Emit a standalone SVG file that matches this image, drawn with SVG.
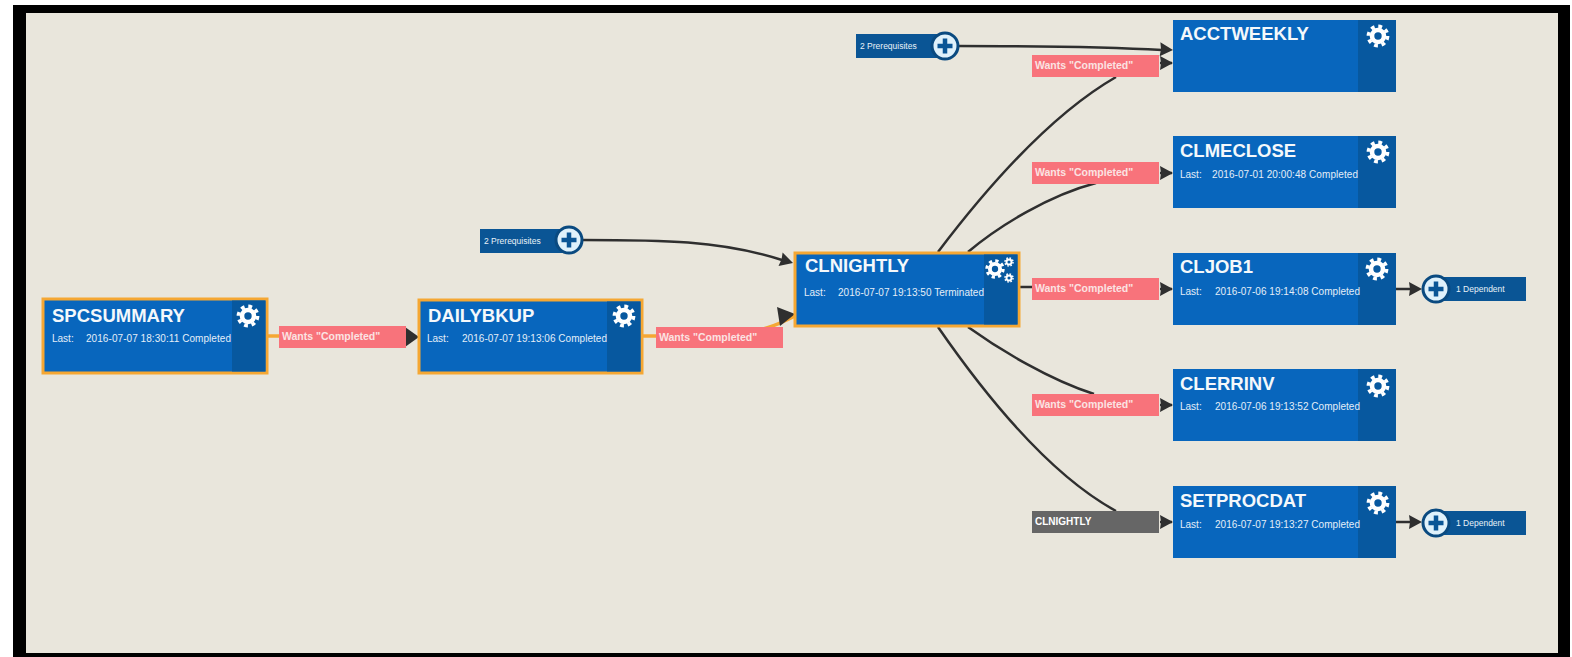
<svg xmlns="http://www.w3.org/2000/svg" width="1572" height="657" viewBox="0 0 1572 657">
<style>
text{font-family:"Liberation Sans",Arial,sans-serif;fill:#fff}
.box{fill:#0866bd}
.act{stroke:#f5a733;stroke-width:3}
.side{fill:#07589f}
.t{font-size:18.500px;font-weight:bold;fill:#f4f8fb}
.l{font-size:10px;fill:#e4eef8}
.w{font-size:10.500px;font-weight:bold;fill:#fbe3e3}
.wb{fill:#f8737b}
.c{fill:none;stroke:#2f2f2f;stroke-width:2.500}
.o{fill:none;stroke:#f5a733;stroke-width:3.500}
.tag{fill:#0a5595}
.s{font-size:8.500px;fill:#e8f1f8}
.pc{fill:#dff1fb;stroke:#0a4a80;stroke-width:3}
.ar{fill:#2f2f2f}
</style>
<defs>
<g id="gear" fill="none" stroke="#fff">
<circle r="9.600" stroke-width="3.600" stroke-dasharray="3.800 3.740"/>
<circle r="6" stroke-width="4.600"/>
</g>
<g id="plus">
<circle r="13" class="pc"/>
<path d="M0-7.500V7.500M-7.500 0H7.500" stroke="#0a5595" stroke-width="4.500" fill="none"/>
</g>
<path id="ah" d="M-13-7L0 0L-13 7L-12 0Z" class="ar"/>
</defs>
<rect width="1572" height="657" fill="#fff"/>
<rect x="13" y="5" width="1557" height="652" fill="#000"/>
<rect x="26" y="13" width="1532" height="640" fill="#e9e6dc"/>

<g id="connectors">
<path class="o" d="M267 336H282"/>
<path class="o" d="M643 336H660"/>
<path class="o" d="M740 332C760 332 775 326 795 316"/>
<path class="c" d="M1020 287H1034"/>
<path class="c" d="M582 240C660 240 720 240 782 260"/>
<path class="c" d="M957 46C1040 46 1110 47 1162 50"/>
<path class="c" d="M938 252C985 190 1050 115 1116 77"/>
<path class="c" d="M968 252C1000 225 1050 195 1096 183"/>
<path class="c" d="M968 327C1000 350 1050 380 1094 394"/>
<path class="c" d="M938 327C985 395 1050 475 1116 511"/>
<path class="c" d="M1160 63H1172M1160 173H1172M1160 289H1172M1160 405H1172M1160 522H1172"/>
<path class="c" d="M1395 289H1410M1395 522H1410"/>
<use href="#ah" transform="translate(793 263) rotate(17)"/>
<path class="ar" d="M777 307L795 314L780 326Z"/>
<path class="ar" d="M405 327L419 337L405 347Z"/>
<use href="#ah" transform="translate(1173 50) rotate(3)"/>
<use href="#ah" transform="translate(1173 63)"/>
<use href="#ah" transform="translate(1173 173)"/>
<use href="#ah" transform="translate(1173 289)"/>
<use href="#ah" transform="translate(1173 405)"/>
<use href="#ah" transform="translate(1173 522)"/>
<use href="#ah" transform="translate(1422 289)"/>
<use href="#ah" transform="translate(1422 522)"/>
</g>

<g id="spcsummary">
<rect class="box act" x="43" y="299" width="224" height="74"/>
<rect class="side" x="232" y="300.500" width="33.500" height="71"/>
<text class="t" x="52" y="322">SPCSUMMARY</text>
<text class="l" x="52" y="342">Last:</text><text class="l" x="86" y="342" textLength="145">2016-07-07 18:30:11 Completed</text>
<use href="#gear" x="248" y="316"/>
</g>
<g id="dailybkup">
<rect class="box act" x="419" y="300" width="223" height="73"/>
<rect class="side" x="607" y="301.500" width="33.500" height="70"/>
<text class="t" x="428" y="322">DAILYBKUP</text>
<text class="l" x="427" y="342">Last:</text><text class="l" x="462" y="342" textLength="145">2016-07-07 19:13:06 Completed</text>
<use href="#gear" x="624" y="316"/>
</g>
<g id="clnightly">
<rect class="box act" x="795" y="253" width="224" height="73"/>
<rect class="side" x="984" y="254.500" width="33.500" height="70"/>
<text class="t" x="805" y="272">CLNIGHTLY</text>
<text class="l" x="804" y="296">Last:</text><text class="l" x="838" y="296" textLength="146">2016-07-07 19:13:50 Terminated</text>
<use href="#gear" transform="translate(995 269) scale(.85)"/>
<use href="#gear" transform="translate(1009 262) scale(.42)"/>
<use href="#gear" transform="translate(1009 278) scale(.42)"/>
</g>
<g id="acctweekly">
<rect class="box" x="1173" y="20" width="223" height="72"/>
<rect class="side" x="1358" y="20" width="38" height="72"/>
<text class="t" x="1180" y="40">ACCTWEEKLY</text>
<use href="#gear" x="1378" y="36"/>
</g>
<g id="clmeclose">
<rect class="box" x="1173" y="136" width="223" height="72"/>
<rect class="side" x="1358" y="136" width="38" height="72"/>
<text class="t" x="1180" y="157">CLMECLOSE</text>
<text class="l" x="1180" y="178">Last:</text><text class="l" x="1212" y="178" textLength="146">2016-07-01 20:00:48 Completed</text>
<use href="#gear" x="1378" y="152"/>
</g>
<g id="cljob1">
<rect class="box" x="1173" y="253" width="223" height="72"/>
<rect class="side" x="1358" y="253" width="38" height="72"/>
<text class="t" x="1180" y="273">CLJOB1</text>
<text class="l" x="1180" y="295">Last:</text><text class="l" x="1215" y="295" textLength="145">2016-07-06 19:14:08 Completed</text>
<use href="#gear" x="1377" y="269"/>
</g>
<g id="clerrinv">
<rect class="box" x="1173" y="369" width="223" height="72"/>
<rect class="side" x="1358" y="369" width="38" height="72"/>
<text class="t" x="1180" y="390">CLERRINV</text>
<text class="l" x="1180" y="410">Last:</text><text class="l" x="1215" y="410" textLength="145">2016-07-06 19:13:52 Completed</text>
<use href="#gear" x="1378" y="386"/>
</g>
<g id="setprocdat">
<rect class="box" x="1173" y="486" width="223" height="72"/>
<rect class="side" x="1358" y="486" width="38" height="72"/>
<text class="t" x="1180" y="507">SETPROCDAT</text>
<text class="l" x="1180" y="528">Last:</text><text class="l" x="1215" y="528" textLength="145">2016-07-07 19:13:27 Completed</text>
<use href="#gear" x="1378" y="503"/>
</g>

<g id="wants-spc"><rect class="wb" x="279" y="326" width="127" height="22"/><text class="w" x="282" y="340">Wants "Completed"</text></g>
<g id="wants-daily"><rect class="wb" x="656" y="327" width="127" height="21"/><text class="w" x="659" y="341">Wants "Completed"</text></g>
<g id="wants-acct"><rect class="wb" x="1032" y="55" width="127" height="22"/><text class="w" x="1035" y="69">Wants "Completed"</text></g>
<g id="wants-clme"><rect class="wb" x="1032" y="162" width="127" height="22"/><text class="w" x="1035" y="176">Wants "Completed"</text></g>
<g id="wants-job"><rect class="wb" x="1032" y="278" width="127" height="22"/><text class="w" x="1035" y="292">Wants "Completed"</text></g>
<g id="wants-err"><rect class="wb" x="1032" y="394" width="127" height="22"/><text class="w" x="1035" y="408">Wants "Completed"</text></g>
<g id="gate-clnightly"><rect x="1032" y="511" width="127" height="22" fill="#666"/><text x="1035" y="525" font-size="10" font-weight="bold" fill="#f0f0f0">CLNIGHTLY</text></g>

<g id="prereq-top"><rect class="tag" x="856" y="34" width="90" height="24"/><text class="s" x="860" y="49">2 Prerequisites</text><use href="#plus" x="945" y="46"/></g>
<g id="prereq-mid"><rect class="tag" x="480" y="229" width="90" height="24"/><text class="s" x="484" y="244">2 Prerequisites</text><use href="#plus" x="569" y="240"/></g>
<g id="dep-job"><rect class="tag" x="1430" y="277" width="96" height="24"/><text class="s" x="1456" y="292">1 Dependent</text><use href="#plus" x="1436" y="289"/></g>
<g id="dep-set"><rect class="tag" x="1430" y="511" width="96" height="24"/><text class="s" x="1456" y="526">1 Dependent</text><use href="#plus" x="1436" y="523"/></g>
</svg>
